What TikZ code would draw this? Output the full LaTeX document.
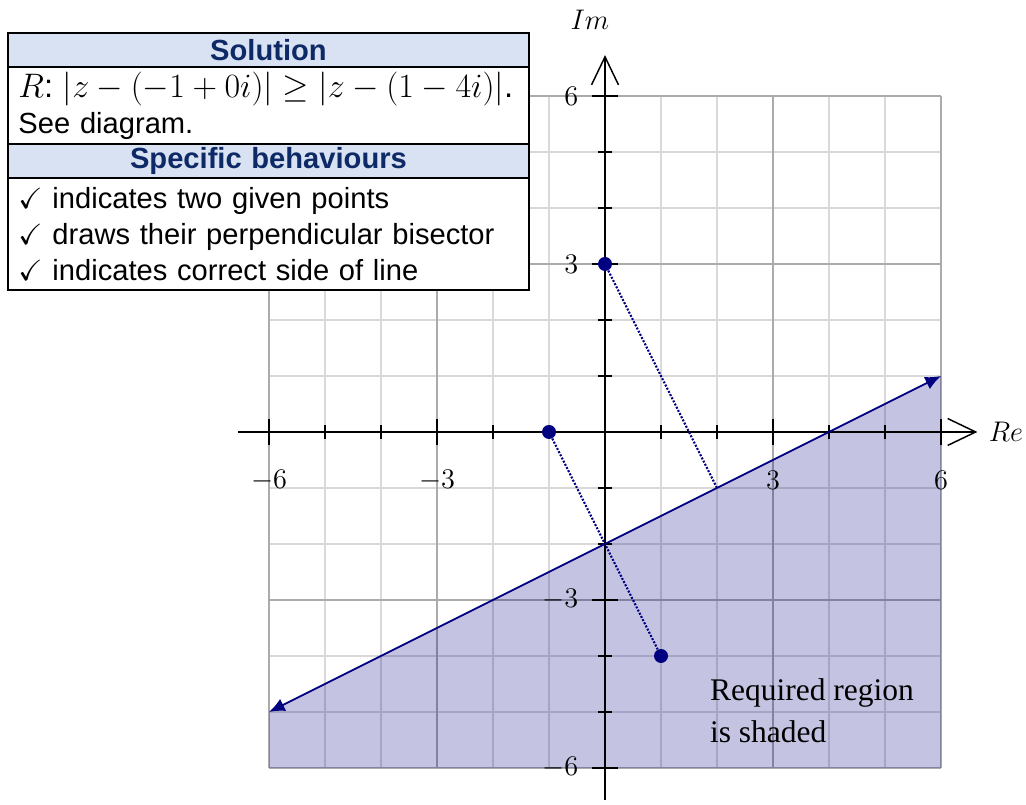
\documentclass[tikz,border=0pt]{standalone}
\usepackage{amsmath}
\usepackage{amssymb}
\usepackage{fontspec}
\setmainfont{Liberation Serif}
\setsansfont{Liberation Sans}
\usetikzlibrary{positioning, arrows.meta}
\definecolor{headfill}{HTML}{D9E2F3}
\definecolor{headtext}{HTML}{0D2A66}
\definecolor{regionblue}{HTML}{000080}
\definecolor{gridlt}{HTML}{D9D9D9}
\definecolor{griddk}{HTML}{ABABAB}
\tikzset{
  cell/.style={draw, line width=0.9pt, fill=white, outer sep=0pt, inner xsep=5pt, inner ysep=0pt, text width=254pt, minimum width=9.3cm, align=left, font=\sffamily\fontsize{14.8}{18.3}\selectfont},
  head/.style={cell, fill=headfill, align=center, text=headtext, font=\sffamily\bfseries\fontsize{14.8}{18.3}\selectfont, minimum height=0.607cm},
  dot/.style={circle, fill=regionblue, inner sep=0pt, minimum size=0.25cm},
  perp/.style={regionblue, dash pattern=on 1pt off 0.8pt, line width=1.1pt},
  bisect/.style={{Latex[length=2.8mm,width=2.4mm]}-{Latex[length=2.8mm,width=2.4mm]}, regionblue, line width=0.9pt},
  axis/.style={-{Straight Barb[length=5mm,width=4.8mm]}, line width=0.75pt},
  lbl/.style={inner sep=0pt, font=\fontsize{14.5}{16}\selectfont},
  note/.style={inner sep=0pt, align=left, font=\fontsize{16}{21.3}\selectfont}
}
\begin{document}
\begin{tikzpicture}[x=1cm, y=1cm]
\useasboundingbox (-10.804,-6.661) rectangle (7.518,7.714);
\foreach \k in {-5,-4,-2,-1,1,2,4,5} {
  \draw[gridlt, line width=0.9pt] (\k,-6) -- (\k,6);
  \draw[gridlt, line width=0.9pt] (-6,\k) -- (6,\k);
}
\foreach \k in {-6,-3,3,6} {
  \draw[griddk, line width=0.9pt] (\k,-6) -- (\k,6);
  \draw[griddk, line width=0.9pt] (-6,\k) -- (6,\k);
}
\coordinate (bl) at (-6,-5);
\coordinate (br) at (6,1);
\fill[regionblue, fill opacity=0.23] (bl) -- (br) -- (6,-6) -- (-6,-6) -- cycle;
\coordinate (xl) at (-6.55,0);
\coordinate (xr) at (6.65,0);
\coordinate (yb) at (0,-6.57);
\coordinate (yt) at (0,6.73);
\draw[axis] (xl) -- (xr);
\draw[axis] (yb) -- (yt);
\foreach \k in {-5,-4,-2,-1,1,2,4,5} {
  \draw[line width=0.75pt] (\k,-0.13) -- (\k,0.13);
  \draw[line width=0.75pt] (-0.13,\k) -- (0.13,\k);
}
\foreach \k in {-6,-3,3,6} {
  \draw[line width=0.75pt] (\k,-0.24) -- (\k,0.24);
  \draw[line width=0.75pt] (-0.24,\k) -- (0.24,\k);
}
\foreach \k [count=\i] in {-6,-3,3,6} {
  \node[lbl] (xt\i) at (\k,-0.86) {$\k$};
  \node[lbl, anchor=east] (yt\i) at (-0.47,\k) {$\k$};
}
\node[lbl] (relbl) at (7.16,0) {$Re$};
\node[lbl] (imlbl) at (-0.27,7.36) {$Im$};
\draw[bisect] (bl) -- (br);
\node[dot] (p1) at (-1,0) {};
\node[dot] (p2) at (1,-4) {};
\node[dot] (p3) at (0,3) {};
\coordinate (foot) at (2,-1);
\draw[perp] (p1) -- (p2);
\draw[perp] (p3) -- (foot);
\node[note, anchor=north west] (regnote) at (1.87,-4.40) {Required region\\is shaded};
\node[head, anchor=north west] (solhead) at (-10.66,7.125) {Solution};
\node[cell, minimum height=1.375cm, below=0pt of solhead] (solbody) {{\fontsize{16.6}{18.3}\selectfont$R$:\ $|z-(-1+0i)|\geq|z-(1-4i)|$.}\\See diagram.};
\node[head, below=0pt of solbody] (behhead) {Specific behaviours};
\node[cell, minimum height=2cm, below=0pt of behhead] (behbody) {$\checkmark$ indicates two given points\\$\checkmark$ draws their perpendicular bisector\\$\checkmark$ indicates correct side of line};
\end{tikzpicture}
\end{document}
